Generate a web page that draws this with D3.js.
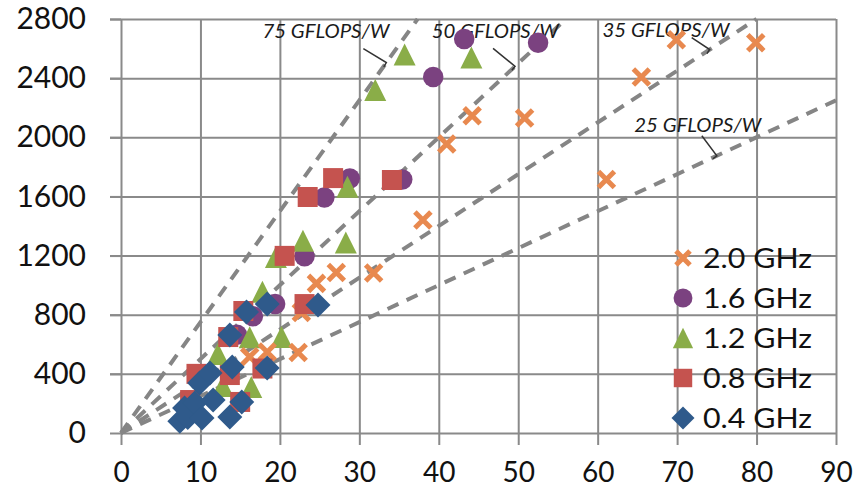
<!DOCTYPE html>
<html>
<head>
<meta charset="utf-8">
<script src="https://cdn.jsdelivr.net/npm/d3@7"></script>
<style>
  body { margin: 0; background: #fff; }
  svg { display: block; }
</style>
</head>
<body>
<script>
// watts (x) and GFLOPS (y) per clock frequency
var watts20 = [16.2, 18.4, 22.3, 22.7, 24.6, 27.1, 31.8, 38.0, 41.0, 44.2, 50.8, 61.1, 65.5, 69.9, 79.9];
var gflops20 = [515, 548, 545, 815, 1012, 1085, 1082, 1440, 1955, 2145, 2130, 1715, 2408, 2660, 2640];
var watts16 = [14.6, 16.6, 19.4, 23.1, 25.6, 28.8, 35.4, 39.3, 43.2, 52.5];
var gflops16 = [665, 790, 872, 1195, 1592, 1722, 1715, 2408, 2665, 2640];
var watts12 = [12.2, 12.8, 16.4, 16.2, 17.8, 19.5, 20.2, 22.9, 28.3, 28.5, 32.0, 35.7, 44.1];
var gflops12 = [535, 318, 311, 647, 955, 1190, 649, 1300, 1288, 1665, 2319, 2560, 2540];
var watts08 = [8.7, 9.5, 13.7, 15.0, 17.8, 13.5, 15.4, 20.6, 23.1, 23.5, 26.7, 34.1];
var gflops08 = [223, 400, 392, 210, 436, 649, 825, 1198, 872, 1596, 1724, 1711];
var watts04 = [7.4, 8.4, 8.0, 9.3, 10.2, 9.9, 11.2, 11.6, 13.7, 14.0, 15.2, 13.7, 15.8, 18.4, 18.4, 24.8];
var gflops04 = [80, 105, 169, 203, 101, 338, 406, 223, 108, 446, 210, 662, 818, 440, 872, 865];

var seriesNames = ["2.0 GHz", "1.6 GHz", "1.2 GHz", "0.8 GHz", "0.4 GHz"];
var efficiencies = [75, 50, 35, 25];
var efficiencyLabels = ["75 GFLOPS/W", "50 GFLOPS/W", "35 GFLOPS/W", "25 GFLOPS/W"];
var xTicks = [0, 10, 20, 30, 40, 50, 60, 70, 80, 90];
var yTicks = [0, 400, 800, 1200, 1600, 2000, 2400, 2800];

var width = 859, height = 490;
var svg = d3.select("body").append("svg").attr("width", width).attr("height", height);

var x = d3.scaleLinear().domain([0, 90]).range([121, 836]);
var y = d3.scaleLinear().domain([0, 2800]).range([433, 19]);

var gridColor = "#8a8a8a";
var font = "Lato, 'Open Sans', sans-serif";

// gridlines
svg.append("g").attr("transform", "translate(0,19)")
  .call(d3.axisBottom(x).tickValues(xTicks.slice(1)).tickSize(414).tickFormat(""))
  .call(function(g){ g.select(".domain").remove(); })
  .selectAll("line").attr("stroke", gridColor).attr("stroke-width", 2);
svg.append("g").attr("transform", "translate(836,0)")
  .call(d3.axisLeft(y).tickValues(yTicks.slice(1)).tickSize(726).tickFormat(""))
  .call(function(g){ g.select(".domain").remove(); })
  .selectAll("line").attr("stroke", gridColor).attr("stroke-width", 2);

// axes
var xAxis = svg.append("g").attr("transform", "translate(0,433)")
  .call(d3.axisBottom(x).tickValues(xTicks).tickFormat(d3.format("d")).tickSize(12).tickPadding(17).tickSizeOuter(0));
var yAxis = svg.append("g").attr("transform", "translate(121,0)")
  .call(d3.axisLeft(y).tickValues(yTicks).tickFormat(d3.format("d")).tickSize(11).tickPadding(24).tickSizeOuter(0));
[xAxis, yAxis].forEach(function(g){
  g.select(".domain").attr("stroke", gridColor).attr("stroke-width", 2);
  g.selectAll(".tick line").attr("stroke", gridColor).attr("stroke-width", 2);
  g.selectAll(".tick text").attr("fill", "#111").style("font-family", font).style("font-size", "30px");
});
xAxis.selectAll(".tick text").style("font-size", "28px");

// efficiency lines
var effLine = d3.line().x(function(d){ return x(d[0]); }).y(function(d){ return y(d[1]); });
efficiencies.forEach(function(e){
  var xEnd = Math.min(90, 2800 / e);
  svg.append("path")
    .attr("d", effLine([[0, 0], [xEnd, e * xEnd]]))
    .attr("fill", "none")
    .attr("stroke", "#858585")
    .attr("stroke-width", 4)
    .attr("stroke-dasharray", "12,9");
});

// callout labels: [text x, text y, leader end x] in data units, then leader offset in px
var calloutLayout = [[25.8, 2718, 33.4, -23, -14], [47.1, 2718, 49.6, -22, -18], [68.6, 2725, 74.1, -18, -12], [72.6, 2083, 75.0, -15, -20]];
efficiencies.forEach(function(e, i){
  var c = calloutLayout[i];
  var ex = x(c[2]), ey = y(e * c[2]);
  var len = Math.sqrt(c[3] * c[3] + c[4] * c[4]);
  var px = -c[4] / len * 5, py = c[3] / len * 5;
  svg.append("path")
    .attr("d", "M" + (ex + c[3]) + "," + (ey + c[4]) + "L" + ex + "," + ey + "l" + (-px) + "," + (-py))
    .attr("fill", "none").attr("stroke", "#333").attr("stroke-width", 1.5);
  svg.append("text")
    .attr("x", x(c[0])).attr("y", y(c[1]))
    .attr("dy", "0.35em")
    .attr("text-anchor", "middle")
    .attr("textLength", 127).attr("lengthAdjust", "spacingAndGlyphs")
    .style("font-family", font).style("font-style", "italic").style("font-size", "20px")
    .attr("fill", "#1a1a1a")
    .text(efficiencyLabels[i]);
});

// marker shapes
var symTimes = { draw: function(ctx, size){ var r = Math.sqrt(size) / 2; ctx.moveTo(-r, -r); ctx.lineTo(r, r); ctx.moveTo(r, -r); ctx.lineTo(-r, r); } };
var symTriangle = { draw: function(ctx, size){ var r = Math.sqrt(size) / 2; ctx.moveTo(0, -r); ctx.lineTo(r, r); ctx.lineTo(-r, r); ctx.closePath(); } };
var symDiamond = { draw: function(ctx, size){ var r = Math.sqrt(size) / 2; ctx.moveTo(0, -r); ctx.lineTo(r, 0); ctx.lineTo(0, r); ctx.lineTo(-r, 0); ctx.closePath(); } };

var series = [
  { name: seriesNames[0], xs: watts20, ys: gflops20, color: "#e8894f", type: symTimes, size: 256, stroke: true },
  { name: seriesNames[1], xs: watts16, ys: gflops16, color: "#7b4280", type: d3.symbolCircle, size: 330 },
  { name: seriesNames[2], xs: watts12, ys: gflops12, color: "#8aad48", type: symTriangle, size: 484 },
  { name: seriesNames[3], xs: watts08, ys: gflops08, color: "#c5534f", type: d3.symbolSquare, size: 400 },
  { name: seriesNames[4], xs: watts04, ys: gflops04, color: "#2f5a8b", type: symDiamond, size: 625 }
];

function drawMarker(sel, s){
  sel.attr("d", d3.symbol().type(s.type).size(s.size)())
    .attr("fill", s.stroke ? "none" : s.color)
    .attr("stroke", s.stroke ? s.color : "none")
    .attr("stroke-width", s.stroke ? 5 : 0);
}

// draw order seen in the picture: purple, green, orange, red, blue
[1, 2, 0, 3, 4].forEach(function(k){
  var s = series[k];
  svg.append("g").selectAll("path")
    .data(s.xs)
    .enter().append("path")
    .attr("transform", function(d, i){ return "translate(" + x(d) + "," + y(s.ys[i]) + ")"; })
    .call(drawMarker, s);
});

// legend
var legend = svg.append("g");
series.forEach(function(s, i){
  var ly = 258 + i * 40;
  legend.append("path").attr("transform", "translate(683," + ly + ")")
    .call(drawMarker, Object.assign({}, s, { size: s.stroke ? 196 : s.size * 0.85 }));
  legend.append("text")
    .attr("x", 703).attr("y", ly).attr("dy", "0.36em")
    .attr("textLength", 109).attr("lengthAdjust", "spacingAndGlyphs")
    .style("font-family", font).style("font-size", "27px")
    .attr("fill", "#111")
    .text(s.name);
});
</script>
</body>
</html>
